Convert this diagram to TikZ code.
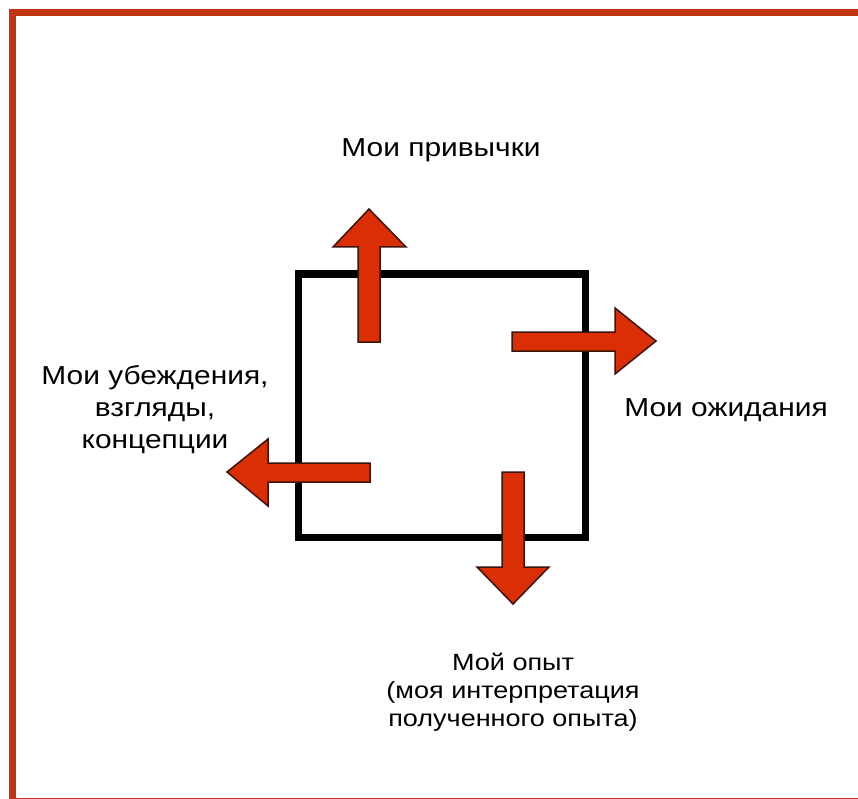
\documentclass[tikz,border=0pt]{standalone}
\usepackage{fontspec}
\setmainfont{Liberation Sans}[FakeStretch = 1.15]
\usetikzlibrary{positioning}
\definecolor{frameorange}{RGB}{192,53,20}
\definecolor{arrowred}{RGB}{218,46,4}
\definecolor{arrowline}{RGB}{60,20,10}
\tikzstyle{note} = [text centered, align = center, inner sep = 0,
  font = \fontsize{26}{32}\selectfont]
\tikzstyle{small note} = [note, font = \fontsize{23.5}{28}\selectfont]
\tikzstyle{blk} = [fill = arrowred, draw = arrowline, line width = 1.5]
\tikzstyle{box} = [
  rectangle, minimum width = 287, minimum height = 263,
  draw = black, line width = 7, inner sep = 0
]

\begin{document}
\begin{tikzpicture}[x = 1pt, y = -1pt]
      \useasboundingbox (0, 0) rectangle (858, 799);
      % frame
      \draw [frameorange, line width = 7] (12.5, 12.5) rectangle (870, 801);
      % square
      \node [box] (core) at (441.5, 405.5) {};
      % up
      \draw [blk] (358, 342) -- (358, 247) -- (333, 247) -- (369, 209)
        -- (406, 247) -- (380, 247) -- (380, 342) -- cycle;
      % right
      \draw [blk] (512, 332) -- (615, 332) -- (615, 308) -- (656, 341)
        -- (615, 374) -- (615, 351) -- (512, 351) -- cycle;
      % left
      \draw [blk] (370, 463) -- (268, 463) -- (268, 439) -- (227, 472)
        -- (268, 506) -- (268, 482) -- (370, 482) -- cycle;
      % down
      \draw [blk] (502, 472) -- (502, 567) -- (477, 567) -- (513, 604)
        -- (549, 567) -- (524, 567) -- (524, 472) -- cycle;

      \node [note] (habits) at (441, 150) {Мои привычки};
      \node [note] (expect) at (726, 410) {Мои ожидания};
      \node [note] (beliefs) at (155, 410) {Мои убеждения,\\взгляды,\\концепции};
      \node [small note] (experience) at (513, 692)
        {Мой опыт\\(моя интерпретация\\полученного опыта)};
    \end{tikzpicture}
\end{document}
